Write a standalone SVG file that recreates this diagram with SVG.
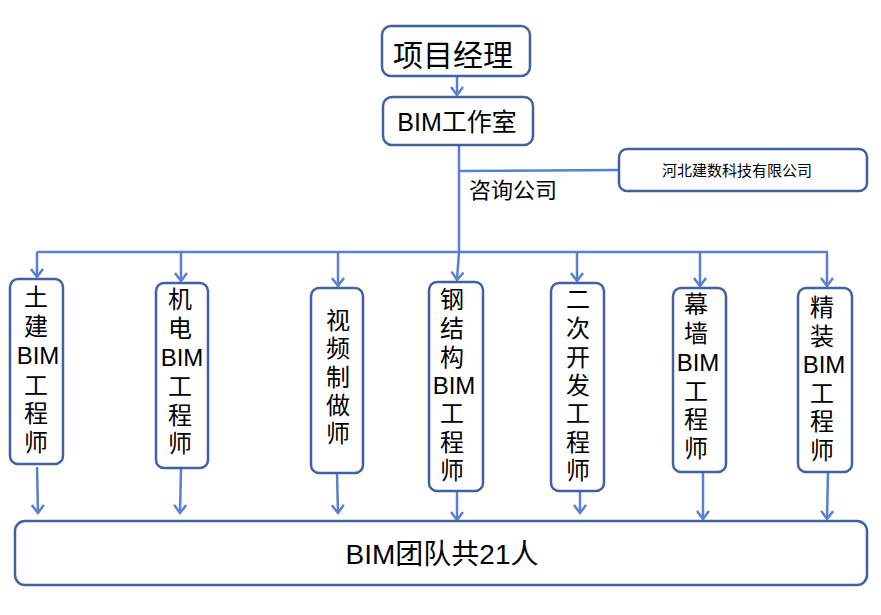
<svg xmlns="http://www.w3.org/2000/svg" width="881" height="615" viewBox="0 0 881 615">
<style>
.box{fill:#fff;stroke:#42619F;stroke-width:2.5}
.ln{fill:none;stroke:#5B7FCF;stroke-width:2.5}
.arr{marker-end:url(#ah)}
text{font-family:"Liberation Sans","Noto Sans CJK SC",sans-serif;fill:#000;text-anchor:middle}
.v{font-size:24px}
</style>
<defs>
<marker id="ah" markerUnits="userSpaceOnUse" markerWidth="16" markerHeight="16" viewBox="-10 -8 12 16" refX="0" refY="0" orient="auto">
<path d="M-8,-6 L0,0 L-8,6" fill="none" stroke="#5B7FCF" stroke-width="2.5"/>
</marker>
</defs>
<rect width="881" height="615" fill="#fff"/>
<g id="connectors">
<line class="ln arr" x1="457" y1="77" x2="457" y2="95"/>
<line class="ln" x1="459" y1="146" x2="459" y2="252"/>
<line class="ln" x1="459" y1="171" x2="619" y2="170"/>
<line class="ln" x1="37" y1="252" x2="828" y2="252"/>
<line class="ln arr" x1="37" y1="252" x2="37" y2="277"/>
<line class="ln arr" x1="181" y1="252" x2="181" y2="281"/>
<line class="ln arr" x1="338" y1="252" x2="338" y2="286"/>
<line class="ln arr" x1="459" y1="252" x2="457" y2="280"/>
<line class="ln arr" x1="577" y1="252" x2="577" y2="281"/>
<line class="ln arr" x1="700" y1="252" x2="700" y2="286"/>
<line class="ln arr" x1="827" y1="252" x2="827" y2="286"/>
<line class="ln arr" x1="37" y1="467" x2="38" y2="513"/>
<line class="ln arr" x1="181" y1="469" x2="180" y2="513"/>
<line class="ln arr" x1="337" y1="474" x2="338" y2="513"/>
<line class="ln arr" x1="457" y1="492" x2="457" y2="520"/>
<line class="ln arr" x1="580" y1="492" x2="580" y2="513"/>
<line class="ln arr" x1="703" y1="473" x2="703" y2="519"/>
<line class="ln arr" x1="828" y1="473" x2="827" y2="519"/>
</g>
<g id="pm">
<rect class="box" x="382" y="26" width="148" height="50" rx="9"/>
<text x="453" y="66" font-size="30">项目经理</text>
</g>
<g id="studio">
<rect class="box" x="383" y="97" width="150" height="48" rx="9"/>
<text x="457" y="131" font-size="25">BIM工作室</text>
</g>
<g id="consult-label">
<text x="513" y="198" font-size="22">咨询公司</text>
</g>
<g id="company">
<rect class="box" x="619" y="149" width="248" height="42" rx="8"/>
<text x="737" y="176" font-size="15">河北建数科技有限公司</text>
</g>
<g id="n1">
<rect class="box" x="10" y="279" width="53" height="185" rx="8"/>
<text class="v" x="37"><tspan x="36" y="306">土</tspan><tspan x="36" y="335">建</tspan><tspan x="38" y="364">BIM</tspan><tspan x="36" y="394">工</tspan><tspan x="36" y="422">程</tspan><tspan x="36" y="451">师</tspan></text>
</g>
<g id="n2">
<rect class="box" x="156" y="283" width="52" height="185" rx="8"/>
<text class="v"><tspan x="180" y="308">机</tspan><tspan x="180" y="337">电</tspan><tspan x="182" y="366">BIM</tspan><tspan x="180" y="395">工</tspan><tspan x="180" y="424">程</tspan><tspan x="180" y="452">师</tspan></text>
</g>
<g id="n3">
<rect class="box" x="311" y="288" width="52" height="185" rx="8"/>
<text class="v"><tspan x="338" y="329">视</tspan><tspan x="338" y="357">频</tspan><tspan x="338" y="386">制</tspan><tspan x="338" y="414">做</tspan><tspan x="338" y="442">师</tspan></text>
</g>
<g id="n4">
<rect class="box" x="429" y="282" width="54" height="209" rx="8"/>
<text class="v"><tspan x="452" y="308">钢</tspan><tspan x="452" y="337">结</tspan><tspan x="452" y="366">构</tspan><tspan x="454" y="394">BIM</tspan><tspan x="452" y="422">工</tspan><tspan x="452" y="451">程</tspan><tspan x="452" y="479">师</tspan></text>
</g>
<g id="n5">
<rect class="box" x="551" y="283" width="53" height="208" rx="8"/>
<text class="v"><tspan x="578" y="308">二</tspan><tspan x="578" y="337">次</tspan><tspan x="578" y="366">开</tspan><tspan x="578" y="394">发</tspan><tspan x="578" y="422">工</tspan><tspan x="578" y="451">程</tspan><tspan x="578" y="479">师</tspan></text>
</g>
<g id="n6">
<rect class="box" x="673" y="288" width="53" height="184" rx="8"/>
<text class="v"><tspan x="696" y="313">幕</tspan><tspan x="696" y="342">墙</tspan><tspan x="698" y="371">BIM</tspan><tspan x="696" y="400">工</tspan><tspan x="696" y="428">程</tspan><tspan x="696" y="457">师</tspan></text>
</g>
<g id="n7">
<rect class="box" x="798" y="288" width="54" height="184" rx="8"/>
<text class="v"><tspan x="822" y="316">精</tspan><tspan x="822" y="345">装</tspan><tspan x="824" y="373">BIM</tspan><tspan x="822" y="402">工</tspan><tspan x="822" y="430">程</tspan><tspan x="822" y="459">师</tspan></text>
</g>
<g id="team">
<rect class="box" x="15" y="521" width="852" height="64" rx="10"/>
<text x="442" y="564" font-size="28">BIM团队共21人</text>
</g>
</svg>
